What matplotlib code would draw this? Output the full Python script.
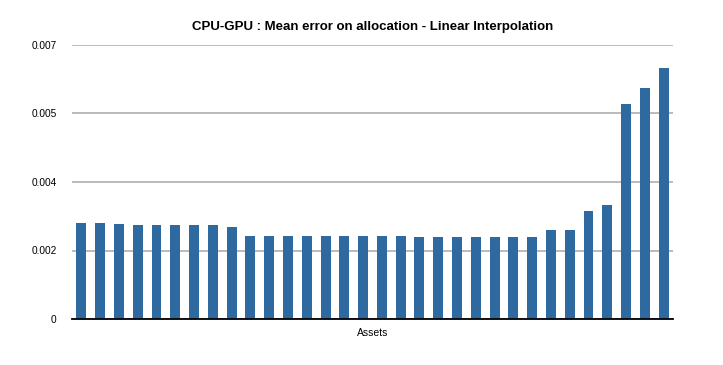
import numpy as np
import matplotlib.pyplot as plt

plt.rcParams['font.family'] = ['Liberation Sans', 'DejaVu Sans']

# mean error per asset
errors = [0.002453, 0.002453, 0.002427, 0.002401, 0.002401, 0.002401, 0.002401, 0.002401,
          0.002350, 0.002120, 0.002120, 0.002120, 0.002120, 0.002120, 0.002120, 0.002120,
          0.002120, 0.002120, 0.002095, 0.002095, 0.002095, 0.002095, 0.002095, 0.002095,
          0.002095, 0.002274, 0.002274, 0.002759, 0.002912, 0.005493, 0.005901, 0.006412]
yticks = [0, 0.00175, 0.0035, 0.00525, 0.007]
ytick_labels = ['0', '0.002', '0.004', '0.005', '0.007']

fig = plt.figure(figsize=(7.23, 3.65), dpi=100)
ax = fig.add_axes([72 / 723, 1 - 319 / 365, 601 / 723, 274 / 365])

x = np.arange(len(errors))
ax.bar(x, errors, width=0.53, color='#2e69a0', zorder=3)

ax.set_xlim(-0.5, len(errors) - 0.5)
ax.set_ylim(0, 0.007)
ax.set_yticks(yticks)
ax.set_yticklabels(ytick_labels)
ax.set_xticks([])
ax.yaxis.grid(True, color='#a8a8a8', linewidth=1.1, zorder=0)
ax.tick_params(axis='y', length=0, pad=11, labelsize=7.3)

for s in ['top', 'right', 'left']:
    ax.spines[s].set_visible(False)
ax.spines['bottom'].set_color('black')
ax.spines['bottom'].set_linewidth(1.3)
ax.spines['bottom'].set_zorder(4)

ax.set_xlabel('Assets', fontsize=7.5, labelpad=6.5)
ax.set_title('CPU-GPU : Mean error on allocation - Linear Interpolation',
             fontsize=9.5, fontweight='bold', pad=11)

fig.savefig('out.png', dpi=100)
